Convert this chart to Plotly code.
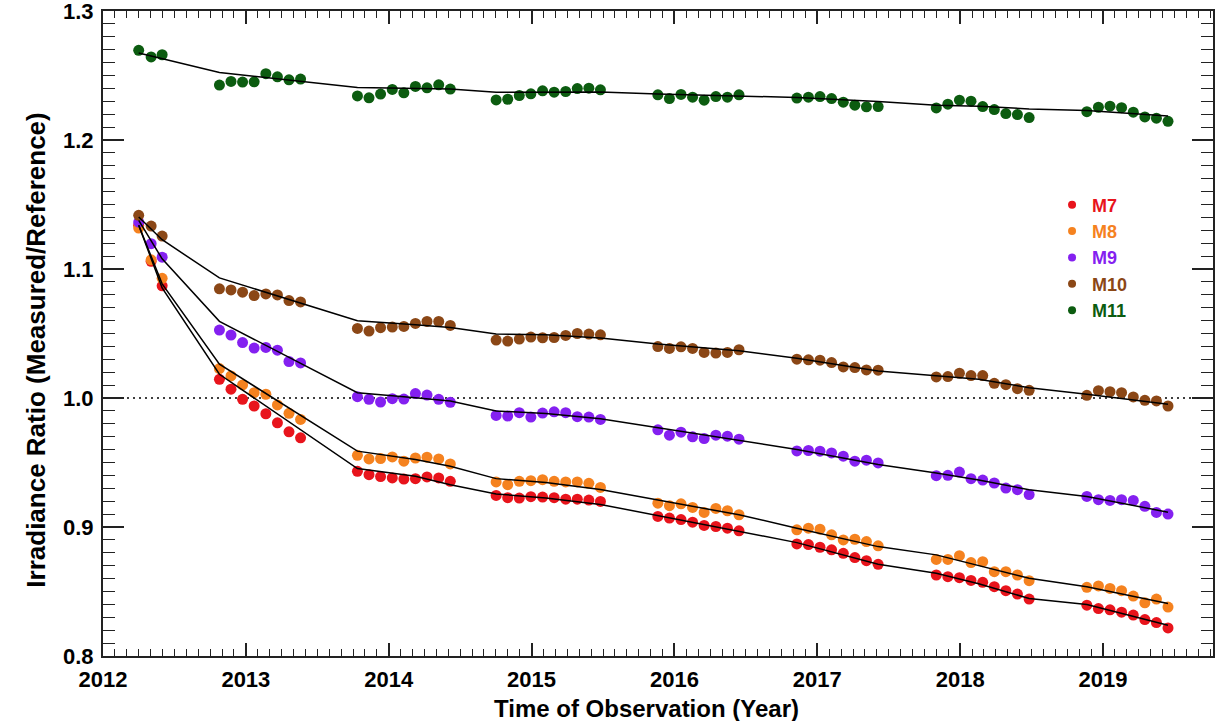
import plotly.graph_objects as go

# Observation times (decimal year), shared by all bands
obs_time = [
    2012.250, 2012.337, 2012.414,
    2012.815, 2012.896, 2012.977, 2013.058, 2013.140, 2013.221, 2013.302, 2013.383,
    2013.781, 2013.862, 2013.943, 2014.025, 2014.106, 2014.187, 2014.268, 2014.350, 2014.431,
    2014.752, 2014.833, 2014.914, 2014.995, 2015.077, 2015.158, 2015.239, 2015.320, 2015.401, 2015.482,
    2015.884, 2015.965, 2016.046, 2016.127, 2016.208, 2016.290, 2016.371, 2016.452,
    2016.857, 2016.938, 2017.019, 2017.100, 2017.182, 2017.263, 2017.344, 2017.426,
    2017.833, 2017.914, 2017.995, 2018.076, 2018.158, 2018.239, 2018.320, 2018.401, 2018.483,
    2018.887, 2018.968, 2019.049, 2019.130, 2019.212, 2019.293, 2019.374, 2019.455,
]

m7 = [
    1.134, 1.106, 1.087,
    1.0145, 1.0068, 0.9990, 0.9938, 0.9878, 0.9808, 0.9738, 0.9691,
    0.9432, 0.9406, 0.9391, 0.9380, 0.9372, 0.9375, 0.9388, 0.9380, 0.9354,
    0.9245, 0.9227, 0.9224, 0.9235, 0.9232, 0.9227, 0.9216, 0.9216, 0.9209, 0.9198,
    0.9082, 0.9069, 0.9058, 0.9037, 0.9012, 0.9004, 0.8991, 0.8970,
    0.8869, 0.8864, 0.8843, 0.8823, 0.8796, 0.8763, 0.8739, 0.8711,
    0.8628, 0.8615, 0.8607, 0.8586, 0.8571, 0.8537, 0.8506, 0.8480, 0.8441,
    0.8394, 0.8368, 0.8358, 0.8340, 0.8317, 0.8282, 0.8259, 0.8218,
]
m8 = [
    1.1318, 1.1071, 1.0928,
    1.0228, 1.0171, 1.0101, 1.0041, 1.0029, 0.9946, 0.9881, 0.9834,
    0.9556, 0.9528, 0.9531, 0.9543, 0.9510, 0.9535, 0.9541, 0.9528, 0.9489,
    0.9349, 0.9328, 0.9354, 0.9359, 0.9367, 0.9354, 0.9349, 0.9349, 0.9339, 0.9307,
    0.9185, 0.9165, 0.9180, 0.9152, 0.9113, 0.9144, 0.9126, 0.9095,
    0.8978, 0.8991, 0.8983, 0.8939, 0.8900, 0.8905, 0.8887, 0.8854,
    0.8749, 0.8749, 0.8778, 0.8724, 0.8731, 0.8654, 0.8654, 0.8628, 0.8584,
    0.8532, 0.8543, 0.8524, 0.8506, 0.8465, 0.8412, 0.8441, 0.8379,
]
m9 = [
    1.1364, 1.1196, 1.1092,
    1.0527, 1.0488, 1.0430, 1.0387, 1.0392, 1.0371, 1.0283, 1.0272,
    1.0010, 0.9990, 0.9969, 0.9995, 0.9992, 1.0034, 1.0023, 0.9990, 0.9967,
    0.9865, 0.9860, 0.9886, 0.9852, 0.9883, 0.9893, 0.9886, 0.9855, 0.9852, 0.9834,
    0.9753, 0.9712, 0.9735, 0.9699, 0.9686, 0.9712, 0.9704, 0.9681,
    0.9590, 0.9593, 0.9588, 0.9574, 0.9549, 0.9510, 0.9518, 0.9497,
    0.9398, 0.9401, 0.9426, 0.9375, 0.9364, 0.9341, 0.9302, 0.9289, 0.9251,
    0.9237, 0.9212, 0.9206, 0.9212, 0.9206, 0.9160, 0.9113, 0.9100,
]
m10 = [
    1.1416, 1.1333, 1.1255,
    1.0846, 1.0838, 1.0820, 1.0794, 1.0807, 1.0799, 1.0755, 1.0745,
    1.0539, 1.0519, 1.0545, 1.0550, 1.0555, 1.0578, 1.0594, 1.0594, 1.0563,
    1.0449, 1.0441, 1.0457, 1.0472, 1.0467, 1.0469, 1.0485, 1.0500, 1.0496, 1.0490,
    1.0399, 1.0384, 1.0397, 1.0384, 1.0353, 1.0348, 1.0353, 1.0374,
    1.0301, 1.0296, 1.0293, 1.0275, 1.0241, 1.0236, 1.0218, 1.0216,
    1.0163, 1.0166, 1.0192, 1.0174, 1.0174, 1.0114, 1.0103, 1.0072, 1.0060,
    1.0021, 1.0057, 1.0049, 1.0041, 1.0008, 0.9982, 0.9977, 0.9938,
]
m11 = [
    1.2695, 1.2644, 1.2661,
    1.2426, 1.2454, 1.2449, 1.2451, 1.2514, 1.2490, 1.2467, 1.2472,
    1.2342, 1.2327, 1.2356, 1.2392, 1.2366, 1.2415, 1.2405, 1.2428, 1.2395,
    1.2311, 1.2316, 1.2345, 1.2358, 1.2381, 1.2371, 1.2376, 1.2399, 1.2402, 1.2389,
    1.2350, 1.2321, 1.2353, 1.2332, 1.2309, 1.2337, 1.2332, 1.2350,
    1.2325, 1.2332, 1.2337, 1.2321, 1.2293, 1.2270, 1.2257, 1.2259,
    1.2249, 1.2278, 1.2309, 1.2301, 1.2259, 1.2236, 1.2205, 1.2197, 1.2174,
    1.2220, 1.2254, 1.2262, 1.2251, 1.2216, 1.2179, 1.2169, 1.2145,
]

# Fitted trend curves (read at node times)
fit_time = [2012.25, 2012.414, 2012.815, 2013.781, 2014.187, 2014.431, 2014.752, 2015.10,
            2015.482, 2015.884, 2016.452, 2016.857, 2017.426, 2017.833, 2018.13, 2018.483,
            2018.887, 2019.455]
fit_m7 = [1.1339, 1.0853, 1.0184, 0.9453, 0.9393, 0.9328, 0.9256, 0.9225, 0.9175, 0.9087,
          0.8965, 0.8879, 0.8711, 0.8641, 0.8560, 0.8446, 0.8399, 0.8239]
fit_m8 = [1.1339, 1.0885, 1.0262, 0.9588, 0.9523, 0.9471, 0.9375, 0.9345, 0.9290, 0.9211,
          0.9095, 0.8991, 0.8848, 0.8784, 0.8700, 0.8602, 0.8537, 0.8407]
fit_m9 = [1.1377, 1.1079, 1.0594, 1.0041, 1.0002, 0.9977, 0.9899, 0.9880, 0.9840, 0.9769,
          0.9670, 0.9601, 0.9484, 0.9419, 0.9365, 0.9289, 0.9237, 0.9115]
fit_m10 = [1.1403, 1.1227, 1.0931, 1.0599, 1.0568, 1.0547, 1.0496, 1.0490, 1.0465, 1.0418,
           1.0366, 1.0309, 1.0210, 1.0171, 1.0145, 1.0080, 1.0029, 0.9951]
fit_m11 = [1.2675, 1.2630, 1.2524, 1.2407, 1.2402, 1.2395, 1.2371, 1.2372, 1.2372, 1.2356,
           1.2342, 1.2330, 1.2298, 1.2270, 1.2262, 1.2241, 1.2228, 1.2187]

band_names = ["M7", "M8", "M9", "M10", "M11"]
band_colors = ["#e8141c", "#f5821f", "#8420f0", "#8b4716", "#0c5c10"]
band_values = [m7, m8, m9, m10, m11]
band_fits = [fit_m7, fit_m8, fit_m9, fit_m10, fit_m11]

FONT = "Liberation Sans, Arial, sans-serif"

fig = go.Figure()

# reference line at 1.0
fig.add_trace(go.Scatter(x=[2012, 2019.77], y=[1.0, 1.0], mode="lines",
                         line=dict(color="black", width=1.6, dash="2px,4px"),
                         showlegend=False, hoverinfo="skip"))

for name, color, vals in zip(band_names, band_colors, band_values):
    fig.add_trace(go.Scatter(x=obs_time, y=vals, mode="markers",
                             marker=dict(color=color, size=11, line=dict(width=0)),
                             showlegend=False, name=name))

for fit in band_fits:
    fig.add_trace(go.Scatter(x=fit_time, y=fit, mode="lines",
                             line=dict(color="black", width=1.5),
                             showlegend=False, hoverinfo="skip"))

# legend entries
for name, color in zip(band_names, band_colors):
    fig.add_trace(go.Scatter(x=[None], y=[None], mode="markers",
                             marker=dict(color=color, size=8),
                             name=f"<b><span style='color:{color}'>{name}</span></b>",
                             showlegend=True))

fig.update_layout(
    template="none",
    width=1227, height=721,
    margin=dict(l=103, r=14, t=11, b=65, autoexpand=False),
    paper_bgcolor="white", plot_bgcolor="white",
    font=dict(family=FONT, color="black"),
    showlegend=True,
    legend=dict(x=0.855, y=0.728, xanchor="left", yanchor="top",
                bgcolor="rgba(0,0,0,0)", borderwidth=0,
                font=dict(size=18, family=FONT), itemwidth=30,
                tracegroupgap=0),
    xaxis=dict(
        automargin=False, ticklabeloverflow="allow", ticklabelstandoff=3,
        range=[2012, 2019.77], tickmode="linear", tick0=2012, dtick=1, tickformat="d",
        tickfont=dict(size=22, family=FONT, color="black", weight="bold"),
        ticks="inside", ticklen=13, tickwidth=1.5, tickcolor="#222",
        minor=dict(dtick=1/12, ticks="inside", ticklen=7, tickwidth=1.2, tickcolor="#222"),
        showline=True, linecolor="#222", linewidth=2, mirror="ticks",
        showgrid=False, zeroline=False,
    ),
    yaxis=dict(
        automargin=False, ticklabeloverflow="allow", ticklabelstandoff=3,
        range=[0.8, 1.30001], tickmode="linear", tick0=0.8, dtick=0.1, tickformat=".1f",
        tickfont=dict(size=22, family=FONT, color="black", weight="bold"),
        ticks="inside", ticklen=21, tickwidth=1.5, tickcolor="#222",
        minor=dict(dtick=0.01, ticks="inside", ticklen=12, tickwidth=1.2, tickcolor="#222"),
        showline=True, linecolor="#222", linewidth=2, mirror="ticks",
        showgrid=False, zeroline=False,
    ),
)

fig.add_annotation(text="<b>Time of Observation (Year)</b>", xref="paper", yref="paper",
                   x=0.49, y=-0.081, xanchor="center", yanchor="middle", showarrow=False,
                   font=dict(size=24, family=FONT, color="black"))
fig.add_annotation(text="<b>Irradiance Ratio (Measured/Reference)</b>", xref="paper", yref="paper",
                   x=-0.06, y=0.474, xanchor="center", yanchor="middle", textangle=-90,
                   showarrow=False, font=dict(size=26, family=FONT, color="black"))

fig.write_html("out.html", config={"displayModeBar": False},
               post_script="document.body.style.margin='0px';")
